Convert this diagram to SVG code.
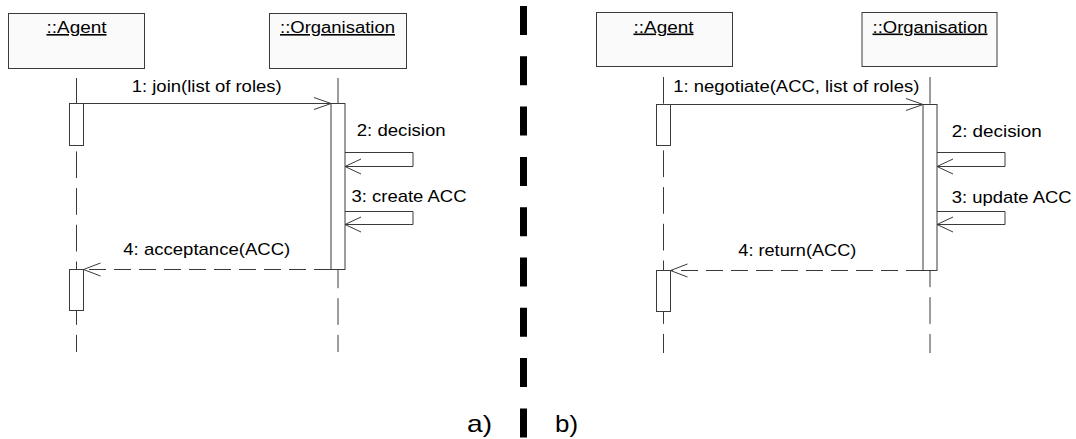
<svg xmlns="http://www.w3.org/2000/svg" width="1076" height="439" viewBox="0 0 1076 439">
  <style>
    .obj { fill: #fafafa; stroke: #3a3a3a; stroke-width: 1; }
    .act { fill: #ffffff; stroke: #3a3a3a; stroke-width: 1; }
    .life { fill: none; stroke: #3a3a3a; stroke-width: 1; stroke-dasharray: 26.7 10; }
    .msg { fill: none; stroke: #3a3a3a; stroke-width: 1; }
    .ret { fill: none; stroke: #3a3a3a; stroke-width: 1; stroke-dasharray: 17 8; }
    .head { fill: none; stroke: #3a3a3a; stroke-width: 1; }
    .title { font-family: "Liberation Sans", Arial, sans-serif; font-size: 16px; fill: #000; text-anchor: middle; text-decoration: underline; }
    .lbl { font-family: "Liberation Sans", Arial, sans-serif; font-size: 17px; fill: #000; }
    .cap { font-family: "Liberation Sans", Arial, sans-serif; font-size: 24px; fill: #000; }
  </style>

  <!-- lifelines (drawn first, activation bars sit on top) -->
  <g id="lifelines">
    <line class="life" x1="76.5" y1="78" x2="76.5" y2="352"/>
    <line class="life" x1="338" y1="78" x2="338" y2="352"/>
    <line class="life" x1="663.5" y1="77" x2="663.5" y2="353"/>
    <line class="life" x1="930" y1="77" x2="930" y2="353"/>
  </g>

  <!-- a) joining an organisation -->
  <g id="a-agent">
    <rect class="obj" x="8.5" y="13.5" width="136" height="55"/>
    <text class="title" x="76.5" y="33" textLength="60" lengthAdjust="spacingAndGlyphs">::Agent</text>
    <rect class="act" x="69.5" y="103.5" width="14" height="42"/>
    <rect class="act" x="69.5" y="269.5" width="14" height="41"/>
  </g>
  <g id="a-organisation">
    <rect class="obj" x="269.5" y="13.5" width="137" height="55"/>
    <text class="title" x="337.5" y="33" textLength="115" lengthAdjust="spacingAndGlyphs">::Organisation</text>
    <rect class="act" x="331" y="103.5" width="14" height="166"/>
  </g>

  <!-- b) negotiating with an organisation -->
  <g id="b-agent">
    <rect class="obj" x="596.5" y="12.5" width="136" height="54"/>
    <text class="title" x="663.5" y="32.5" textLength="60" lengthAdjust="spacingAndGlyphs">::Agent</text>
    <rect class="act" x="656.5" y="104.5" width="14" height="41"/>
    <rect class="act" x="656.5" y="270.5" width="14" height="41"/>
  </g>
  <g id="b-organisation">
    <rect class="obj" x="862" y="12.5" width="135" height="54"/>
    <text class="title" x="930" y="32.5" textLength="115" lengthAdjust="spacingAndGlyphs">::Organisation</text>
    <rect class="act" x="923" y="104.5" width="14" height="166"/>
  </g>

  <!-- messages -->
  <g id="connectors">
    <!-- a) 1: join -->
    <line class="msg" x1="83.5" y1="103.5" x2="331" y2="103.5"/>
    <polyline class="head" points="314,97.5 331,103.5 314,109.5"/>
    <!-- a) 2: decision (self call) -->
    <polyline class="msg" points="345,152.5 413,152.5 413,166.5 345,166.5"/>
    <polyline class="head" points="361,159 345,166.5 361,174"/>
    <!-- a) 3: create ACC (self call) -->
    <polyline class="msg" points="345,211.5 413,211.5 413,224.5 345,224.5"/>
    <polyline class="head" points="361,217 345,224.5 361,232"/>
    <!-- a) 4: acceptance -->
    <line class="ret" x1="331" y1="269.5" x2="83.5" y2="269.5"/>
    <polyline class="head" points="100.5,263 83.5,269.5 100.5,276"/>

    <!-- b) 1: negotiate -->
    <line class="msg" x1="670.5" y1="104.5" x2="923" y2="104.5"/>
    <polyline class="head" points="906,98.5 923,104.5 906,110.5"/>
    <!-- b) 2: decision (self call) -->
    <polyline class="msg" points="937,152.5 1005,152.5 1005,166.5 937,166.5"/>
    <polyline class="head" points="953,159 937,166.5 953,174"/>
    <!-- b) 3: update ACC (self call) -->
    <polyline class="msg" points="937,211.5 1005,211.5 1005,224.5 937,224.5"/>
    <polyline class="head" points="953,217 937,224.5 953,232"/>
    <!-- b) 4: return -->
    <line class="ret" x1="923" y1="270.5" x2="670.5" y2="270.5"/>
    <polyline class="head" points="687.5,264 670.5,270.5 687.5,277"/>
  </g>

  <!-- message labels -->
  <g id="labels">
    <text class="lbl" x="131.7" y="91.5" textLength="150" lengthAdjust="spacingAndGlyphs">1: join(list of roles)</text>
    <text class="lbl" x="356.7" y="136" textLength="89" lengthAdjust="spacingAndGlyphs">2: decision</text>
    <text class="lbl" x="351.5" y="202" textLength="115" lengthAdjust="spacingAndGlyphs">3: create ACC</text>
    <text class="lbl" x="123.3" y="255" textLength="167" lengthAdjust="spacingAndGlyphs">4: acceptance(ACC)</text>

    <text class="lbl" x="673.3" y="91.5" textLength="246" lengthAdjust="spacingAndGlyphs">1: negotiate(ACC, list of roles)</text>
    <text class="lbl" x="951.7" y="136.5" textLength="90" lengthAdjust="spacingAndGlyphs">2: decision</text>
    <text class="lbl" x="951.7" y="203" textLength="120" lengthAdjust="spacingAndGlyphs">3: update ACC</text>
    <text class="lbl" x="738.3" y="256" textLength="118" lengthAdjust="spacingAndGlyphs">4: return(ACC)</text>
  </g>

  <!-- separator between the two variants -->
  <g id="separator">
    <line x1="523.5" y1="6" x2="523.5" y2="439" stroke="#000" stroke-width="7" stroke-dasharray="29 21.3"/>
    <text class="cap" x="467" y="431.5" textLength="25" lengthAdjust="spacingAndGlyphs">a)</text>
    <text class="cap" x="555" y="431.5" textLength="23" lengthAdjust="spacingAndGlyphs">b)</text>
  </g>
</svg>
